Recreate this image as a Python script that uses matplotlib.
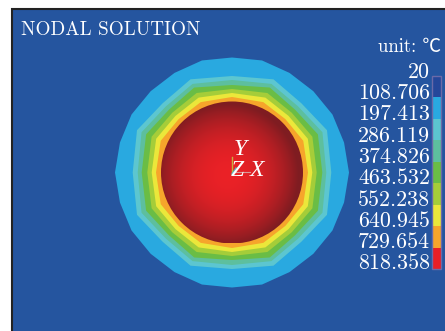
import numpy as np
import matplotlib.pyplot as plt
from matplotlib.patches import Polygon, Rectangle, Circle

W, H = 445, 331
cx, cy = 232, 172.5

legend_labels = ['20', '108.706', '197.413', '286.119', '374.826', '463.532',
                 '552.238', '640.945', '729.654', '818.358']
legend_colors = ['#25479a', '#29a9e0', '#5cc6d0', '#5dbf9e', '#6abd45',
                 '#a5cd39', '#ebe73a', '#f6a52b', '#e81f26']

# contour bands, radius in pixels at these angles (repeated in each quadrant)
outer_angles = [0, 15, 30, 45, 60, 75, 90]
outer_radii = [117, 116, 116, 115, 115, 116, 115]
band_angles = [0, 24, 45, 66, 90]
band_radii = {
    '#5cc6d0': [99.3, 104, 98, 102, 96.5],
    '#5dbf9e': [94.3, 99, 93.5, 97, 92.5],
    '#6abd45': [90.3, 94, 89, 93, 87.5],
    '#a5cd39': [84.7, 88, 84.5, 87, 83.5],
    '#ebe73a': [80.3, 83, 80, 82, 79.5],
    '#f6a52b': [76, 78, 75.5, 77, 75.5],
}
red_radius = 71


def ring(angles, radii):
    a = np.array(angles, dtype=float)
    r = np.array(radii, dtype=float)
    a = np.concatenate([a, 180 - a[::-1][1:], 180 + a[1:], 360 - a[::-1][1:-1]])
    r = np.concatenate([r, r[::-1][1:], r[1:], r[::-1][1:-1]])
    return np.column_stack([cx + r * np.cos(np.radians(a)),
                            cy - r * np.sin(np.radians(a))])


fig = plt.figure(figsize=(W / 100, H / 100), dpi=100, facecolor='white')
ax = fig.add_axes([0, 0, 1, 1])
ax.set_xlim(0, W)
ax.set_ylim(H, 0)
ax.axis('off')

ax.add_patch(Rectangle((11.5, 9), W, H, fc='#25559f', ec='#222222', lw=1.5))

ax.add_patch(Polygon(ring(outer_angles, outer_radii), fc='#29a9e0', ec='none'))
for col in band_radii:
    ax.add_patch(Polygon(ring(band_angles, band_radii[col]), fc=col, ec='none'))

# red ball, lighter in the middle
yy, xx = np.mgrid[0:1:200j, 0:1:200j]
d = np.hypot(xx - 0.47, yy - 0.52) * 2
t = np.clip(d, 0, 1) ** 2.2
shade = np.zeros(d.shape + (3,))
for i, (c0, c1) in enumerate([(0.92, 0.50), (0.13, 0.11), (0.15, 0.13)]):
    shade[..., i] = c0 + (c1 - c0) * t
im = ax.imshow(shade, extent=(cx - red_radius, cx + red_radius, cy + red_radius, cy - red_radius),
               zorder=3, aspect='auto')
im.set_clip_path(Circle((cx, cy), red_radius, transform=ax.transData))
ax.set_xlim(0, W)
ax.set_ylim(H, 0)

# axis triad
ax.plot([232, 232], [157, 174], color='#c8b040', lw=1, zorder=4)
ax.plot([232, 250], [172, 172], color='#d89a9a', lw=0.8, zorder=4)
ax.plot([232, 236], [174, 168], color='#50b8c0', lw=1, zorder=4)

ital = dict(family='Liberation Serif', style='italic', color='white', fontsize=17, zorder=5,
            ha='center', va='center')
ax.text(240, 149.5, 'Y', **ital)
ax.text(237.5, 170.5, 'Z', **ital)
ax.text(257, 170.5, 'X', **ital)

ax.text(21, 30, 'NODAL SOLUTION', family='cmr10', color='white', fontsize=13.8, va='center')
ax.text(441, 47, 'unit: ℃', family=['cmr10', 'Noto Sans CJK SC'], color='white', fontsize=13.5,
        ha='right', va='center')

# legend
box_top, box_h, box_x, box_w = 76, 21.45, 432, 9
for i, col in enumerate(legend_colors):
    ax.add_patch(Rectangle((box_x, box_top + i * box_h), box_w, box_h, fc=col, ec='none'))
ax.add_patch(Rectangle((box_x, box_top), box_w, box_h * 9, fc='none', ec='#6a6aa8', lw=1))
for i, lab in enumerate(legend_labels):
    ax.text(430, 72 + i * 21.3, lab, family='cmr10', color='white', fontsize=15.8,
            ha='right', va='center')

fig.savefig('out.png', dpi=100)
